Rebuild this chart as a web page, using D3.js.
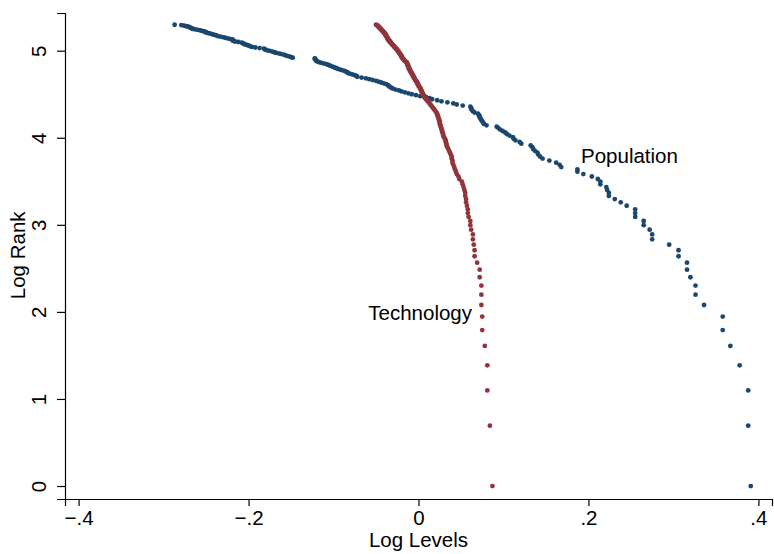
<!DOCTYPE html>
<html>
<head>
<meta charset="utf-8">
<script src="https://cdn.jsdelivr.net/npm/d3@7"></script>
<style>
  body { margin: 0; background: #fff; }
  svg text { font-family: "Liberation Sans", Arial, sans-serif; fill: #000; }
  .axis path, .axis line { stroke: #000; stroke-width: 1.2px; }
</style>
</head>
<body>
<div id="chart"></div>
<script>
// log levels sorted by rank (index 0 = rank 1)
const popLevels = [
  0.391, 0.388, 0.388, 0.378, 0.367, 0.358, 0.358, 0.336, 0.326, 0.326,
  0.320, 0.316, 0.316, 0.306, 0.306, 0.295, 0.275, 0.275, 0.272, 0.265,
  0.265, 0.255, 0.255, 0.255, 0.245, 0.238, 0.231, 0.224, 0.224, 0.222,
  0.221, 0.214, 0.214, 0.211, 0.204, 0.194, 0.187, 0.187, 0.168, 0.166,
  0.162, 0.154, 0.146, 0.143, 0.141, 0.140, 0.137, 0.135, 0.134, 0.132,
  0.121, 0.119, 0.114, 0.112, 0.111, 0.107, 0.104, 0.102, 0.099, 0.096,
  0.094, 0.092, 0.080, 0.077, 0.076, 0.075, 0.074, 0.073, 0.072, 0.072,
  0.071, 0.070, 0.066, 0.064, 0.063, 0.062, 0.062, 0.061, 0.052, 0.045,
  0.041, 0.034, 0.027, 0.022, 0.016, 0.013, 0.009, 0.002, -0.003, -0.008,
  -0.012, -0.016, -0.020, -0.023, -0.027, -0.030, -0.032, -0.034, -0.035, -0.036,
  -0.038, -0.041, -0.044, -0.047, -0.050, -0.054, -0.058, -0.062, -0.067, -0.072,
  -0.073, -0.075, -0.078, -0.081, -0.083, -0.084, -0.086, -0.088, -0.091, -0.094,
  -0.096, -0.098, -0.100, -0.102, -0.104, -0.106, -0.108, -0.111, -0.114, -0.117,
  -0.119, -0.120, -0.121, -0.121, -0.122, -0.122, -0.148, -0.150, -0.152, -0.155,
  -0.157, -0.159, -0.162, -0.165, -0.168, -0.170, -0.172, -0.175, -0.178, -0.180,
  -0.181, -0.182, -0.187, -0.192, -0.196, -0.198, -0.199, -0.201, -0.203, -0.205,
  -0.206, -0.207, -0.208, -0.212, -0.216, -0.218, -0.218, -0.219, -0.219, -0.222,
  -0.225, -0.227, -0.229, -0.232, -0.235, -0.237, -0.238, -0.240, -0.242, -0.244,
  -0.246, -0.248, -0.250, -0.251, -0.252, -0.254, -0.256, -0.258, -0.261, -0.264,
  -0.266, -0.267, -0.268, -0.269, -0.270, -0.272, -0.274, -0.276, -0.279, -0.287
];

const techLevels = [
  0.087, 0.084, 0.081, 0.081, 0.078, 0.075, 0.075, 0.074, 0.074, 0.074,
  0.072, 0.072, 0.069, 0.066, 0.066, 0.065, 0.064, 0.064, 0.062, 0.061,
  0.061, 0.059, 0.058, 0.058, 0.057, 0.056, 0.056, 0.055, 0.055, 0.054,
  0.053, 0.052, 0.051, 0.048, 0.047, 0.045, 0.044, 0.043, 0.042, 0.041,
  0.040, 0.040, 0.039, 0.039, 0.038, 0.037, 0.036, 0.035, 0.034, 0.033,
  0.033, 0.032, 0.032, 0.031, 0.030, 0.029, 0.029, 0.028, 0.028, 0.027,
  0.027, 0.026, 0.026, 0.025, 0.025, 0.025, 0.024, 0.024, 0.023, 0.023,
  0.022, 0.022, 0.021, 0.020, 0.019, 0.018, 0.017, 0.016, 0.015, 0.014,
  0.013, 0.012, 0.011, 0.010, 0.009, 0.008, 0.007, 0.007, 0.006, 0.005,
  0.005, 0.004, 0.004, 0.003, 0.003, 0.002, 0.002, 0.001, 0.000, 0.000,
  -0.001, -0.001, -0.002, -0.002, -0.003, -0.004, -0.004, -0.005, -0.005, -0.006,
  -0.006, -0.007, -0.007, -0.008, -0.008, -0.009, -0.009, -0.010, -0.010, -0.011,
  -0.011, -0.011, -0.012, -0.012, -0.012, -0.013, -0.013, -0.013, -0.014, -0.014,
  -0.015, -0.016, -0.017, -0.017, -0.018, -0.019, -0.019, -0.020, -0.020, -0.020,
  -0.021, -0.021, -0.022, -0.022, -0.023, -0.023, -0.024, -0.024, -0.025, -0.025,
  -0.026, -0.026, -0.027, -0.028, -0.028, -0.029, -0.029, -0.030, -0.031, -0.031,
  -0.032, -0.032, -0.033, -0.033, -0.034, -0.034, -0.035, -0.035, -0.036, -0.036,
  -0.036, -0.037, -0.037, -0.037, -0.038, -0.038, -0.038, -0.039, -0.039, -0.039,
  -0.040, -0.040, -0.041, -0.041, -0.042, -0.042, -0.043, -0.043, -0.044, -0.044,
  -0.045, -0.045, -0.046, -0.046, -0.047, -0.047, -0.048, -0.048, -0.049, -0.050
];

const xTicks = [-0.4, -0.2, 0, 0.2, 0.4];
const xTickLabels = ["\u2212.4", "\u2212.2", "0", ".2", ".4"];
const yTicks = [0, 1, 2, 3, 4, 5];

const seriesNames = ["Population", "Technology"];
const seriesColors = ["#1a476f", "#90353b"];

const width = 774, height = 554;
const fontSize = 20.5;
const svg = d3.select("#chart").append("svg")
    .attr("width", width)
    .attr("height", height);

// plot region edges (axis lines)
const plotLeft = 65, plotRight = 772, plotTop = 13, plotBottom = 499;

const xScale = d3.scaleLinear().domain([-0.416, 0.416]).range([plotLeft, plotRight]);
const yScale = d3.scaleLinear().domain([-0.149, 5.433]).range([plotBottom, plotTop]);

const xAxis = d3.axisBottom(xScale)
    .tickValues(xTicks)
    .tickFormat((d, i) => xTickLabels[i])
    .tickSizeOuter(0)
    .tickSize(7)
    .tickPadding(4);
const yAxis = d3.axisLeft(yScale)
    .tickValues(yTicks)
    .tickFormat(d3.format("d"))
    .tickSizeOuter(0)
    .tickSize(8);

const gx = svg.append("g").attr("class", "axis")
    .attr("transform", "translate(0," + plotBottom + ")")
    .call(xAxis);
gx.selectAll("text").attr("font-size", fontSize).attr("font-family", "Liberation Sans, Arial, sans-serif");

const gy = svg.append("g").attr("class", "axis")
    .attr("transform", "translate(" + plotLeft + ",0)")
    .call(yAxis);
gy.selectAll("text")
    .attr("font-size", fontSize)
    .attr("font-family", "Liberation Sans, Arial, sans-serif")
    .attr("x", 0).attr("y", -19).attr("dy", 0)
    .attr("text-anchor", "middle")
    .attr("transform", "rotate(-90)");

// axis titles
svg.append("text")
    .attr("x", xScale(0)).attr("y", 547)
    .attr("text-anchor", "middle")
    .attr("font-size", fontSize)
    .text("Log Levels");
svg.append("text")
    .attr("transform", "translate(25," + yScale(2.65) + ") rotate(-90)")
    .attr("text-anchor", "middle")
    .attr("font-size", fontSize)
    .text("Log Rank");

// points
const series = [popLevels, techLevels];
series.forEach((levels, s) => {
    svg.append("g").selectAll("circle")
        .data(levels)
        .enter().append("circle")
            .attr("cx", (d) => xScale(d))
            .attr("cy", (d, i) => yScale(Math.log(i + 1)))
            .attr("r", 2.4)
            .attr("fill", seriesColors[s]);
});

// series labels
svg.append("text")
    .attr("x", 581).attr("y", 163)
    .attr("font-size", fontSize)
    .text(seriesNames[0]);
svg.append("text")
    .attr("x", 472).attr("y", 320)
    .attr("text-anchor", "end")
    .attr("font-size", fontSize)
    .text(seriesNames[1]);
</script>
</body>
</html>
